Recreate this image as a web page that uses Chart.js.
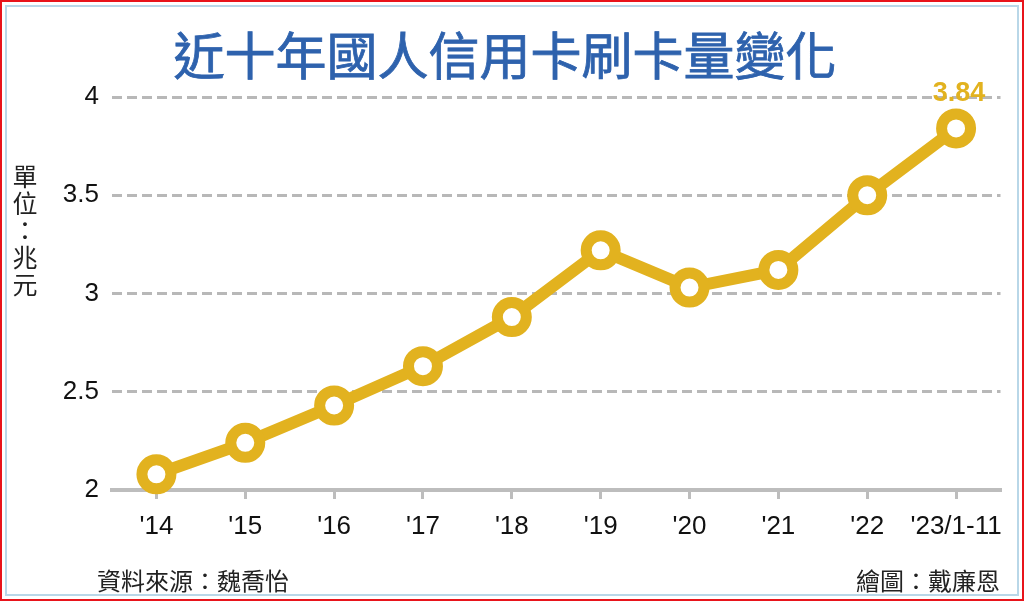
<!DOCTYPE html>
<html>
<head>
<meta charset="utf-8">
<script src="https://cdn.jsdelivr.net/npm/chart.js@4"></script>
<style>
  html, body { margin: 0; padding: 0; background: #fff; }
  #frame {
    position: relative; width: 1024px; height: 601px; box-sizing: border-box;
    border: 2px solid #e8141b; overflow: hidden;
  }
  #inner {
    position: absolute; left: 3px; top: 3px; right: 3px; bottom: 3px;
    border: 2px solid #b9d7e8;
  }
  #chartBox { position: absolute; left: 0; top: 0; width: 1024px; height: 601px; }
  #title {
    position: absolute; left: 0; width: 1006px; top: 20px; text-align: center;
    font-family: "Noto Sans CJK TC", sans-serif; font-weight: normal; font-size: 51px;
    color: #2e62ad; line-height: 62px; -webkit-text-stroke: 0.8px #2e62ad;
  }
  #unit {
    position: absolute; left: 9px; top: 160px; width: 28px;
    font-family: "Noto Sans CJK TC", sans-serif; font-size: 25px; line-height: 27px;
    color: #222; text-align: center;
  }
  .foot {
    position: absolute; top: 563px; font-family: "Noto Sans CJK TC", sans-serif;
    font-size: 24px; line-height: 30px; color: #222;
  }
</style>
</head>
<body>
<div id="frame">
  <div id="inner"></div>
  <div id="chartBox"><canvas id="chart" width="1024" height="601"></canvas></div>
  <div id="title">近十年國人信用卡刷卡量變化</div>
  <div id="unit">單<br>位<br>：<br>兆<br>元</div>
  <div class="foot" style="left:95px;">資料來源：魏喬怡</div>
  <div class="foot" style="right:22px;">繪圖：戴廉恩</div>
</div>
<script>
const years = ["'14", "'15", "'16", "'17", "'18", "'19", "'20", "'21", "'22", "'23/1-11"];
const amounts = [2.08, 2.24, 2.43, 2.63, 2.88, 3.22, 3.03, 3.12, 3.5, 3.84];
const yTicks = [2, 2.5, 3, 3.5, 4];
const gold = "#e2b21f";

// only the last point gets a value label
const lastLabel = {
  id: "lastLabel",
  afterDatasetsDraw(chart) {
    const meta = chart.getDatasetMeta(0);
    const i = amounts.length - 1;
    const pt = meta.data[i];
    const ctx = chart.ctx;
    ctx.save();
    ctx.fillStyle = gold;
    ctx.font = "bold 27px 'Liberation Sans', Arial, sans-serif";
    ctx.textAlign = "center";
    ctx.textBaseline = "middle";
    ctx.fillText(amounts[i].toFixed(2), pt.x + 3, pt.y - 35);
    ctx.restore();
  }
};

new Chart(document.getElementById("chart"), {
  type: "line",
  data: {
    labels: years,
    datasets: [{
      data: amounts,
      borderColor: gold,
      borderWidth: 12,
      pointRadius: 14.5,
      pointBorderWidth: 11,
      pointBackgroundColor: "#fff",
      pointBorderColor: gold,
      tension: 0,
      clip: false
    }]
  },
  options: {
    responsive: false,
    animation: false,
    layout: { padding: { top: 95, right: 19, bottom: 53, left: 0 } },
    plugins: { legend: { display: false }, tooltip: { enabled: false } },
    scales: {
      x: {
        offset: true,
        afterFit: s => { s.height = 60; },
        grid: { drawOnChartArea: false, drawTicks: true, tickLength: 9, color: "#bdbdbd", lineWidth: 3 },
        border: { display: true, color: "#bdbdbd", width: 4 },
        ticks: {
          color: "#111", padding: 12,
          maxRotation: 0, minRotation: 0, autoSkip: false,
          font: { family: "'Liberation Sans', Arial, sans-serif", size: 26 }
        }
      },
      y: {
        min: 2,
        max: 4,
        afterFit: s => { s.width = 110; },
        afterBuildTicks: s => { s.ticks = yTicks.map(v => ({ value: v })); },
        border: { display: false, dash: [10, 5] },
        grid: {
          drawTicks: false,
          lineWidth: 3,
          color: c => (c.tick && c.tick.value === 2 ? "rgba(0,0,0,0)" : "#b8b8b8")
        },
        ticks: {
          color: "#111", padding: 13,
          font: { family: "'Liberation Sans', Arial, sans-serif", size: 26 },
          callback: v => String(v)
        }
      }
    }
  },
  plugins: [lastLabel]
});
</script>
</body>
</html>
